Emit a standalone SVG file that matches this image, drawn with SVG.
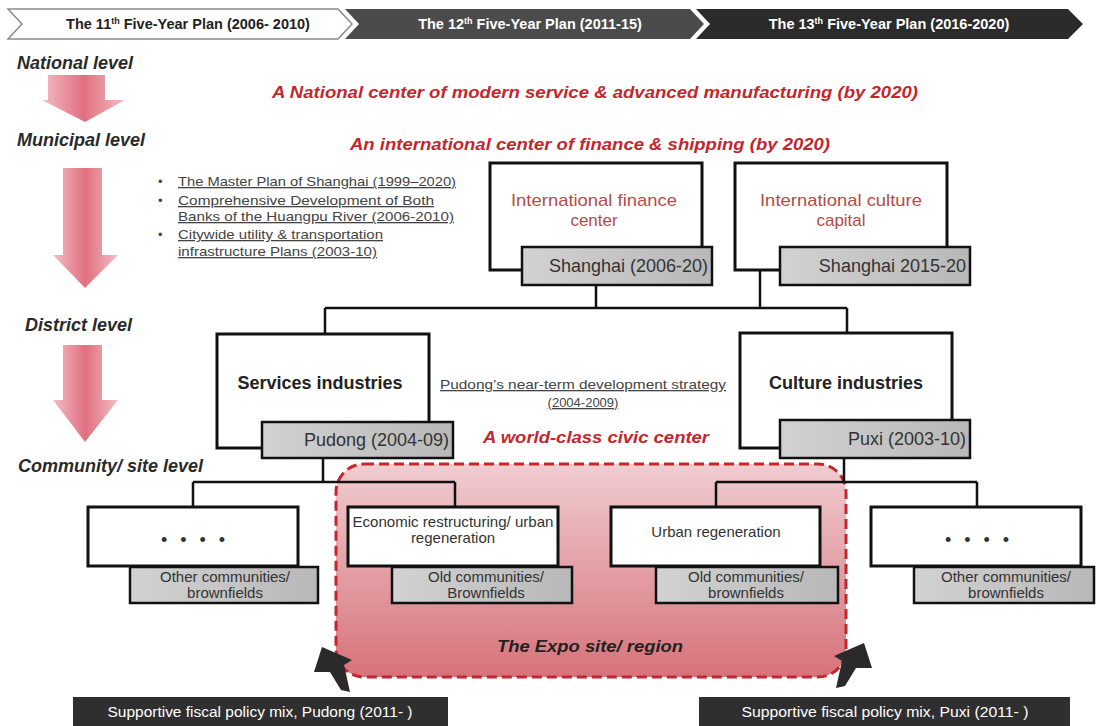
<svg xmlns="http://www.w3.org/2000/svg" width="1096" height="726" viewBox="0 0 1096 726">
<defs>
<linearGradient id="pink" x1="0" y1="0" x2="1" y2="0">
<stop offset="0" stop-color="#f4bcc4"/>
<stop offset="0.5" stop-color="#e07080"/>
<stop offset="1" stop-color="#f4bcc4"/>
</linearGradient>
<linearGradient id="expo" x1="0" y1="0" x2="0" y2="1">
<stop offset="0" stop-color="#f0cdd0"/>
<stop offset="1" stop-color="#d7727a"/>
</linearGradient>
<linearGradient id="lbl" x1="0" y1="0" x2="1" y2="0">
<stop offset="0" stop-color="#d2d2d2"/>
<stop offset="1" stop-color="#b8b8b8"/>
</linearGradient>
<style>
text{font-family:"Liberation Sans",Arial,sans-serif}
.hdr{font-size:14.5px;font-weight:bold;fill:#fff;text-anchor:middle}
.lvl{font-size:18px;font-weight:bold;font-style:italic;fill:#2a2a2a}
.red{font-size:17px;font-weight:bold;font-style:italic;fill:#c3272d;text-anchor:middle}
.bul{font-size:13px;fill:#444;text-decoration:underline}
.box{fill:#fff;stroke:#111;stroke-width:3}
.lab{fill:url(#lbl);stroke:#111;stroke-width:2.5}
.lt{font-size:18px;fill:#333;text-anchor:end}
.tt{font-size:17px;fill:#b84a48;text-anchor:middle}
.bt{font-size:18px;font-weight:bold;fill:#222;text-anchor:middle}
.st{font-size:15px;fill:#333;text-anchor:middle}
.ln{fill:none;stroke:#111;stroke-width:2.5}
.fb{fill:#2f2f2f}
.ft{font-size:14px;fill:#fff;text-anchor:middle}
.arr{fill:url(#pink)}
.dots{font-size:18px;fill:#333;text-anchor:middle;letter-spacing:4px}
</style>
</defs>

<g id="header">
<polygon points="8,9 338,9 352,24 338,39 8,39 22,24" fill="#fff" stroke="#8a8a8a" stroke-width="1.5"/>
<text class="hdr" x="188" y="29" style="fill:#222">The 11<tspan font-size="9" dy="-5">th</tspan><tspan dy="5"> Five-Year Plan (2006- 2010)</tspan></text>
<polygon points="345,9 690,9 704,24 690,39 345,39 359,24" fill="#4b4b4b"/>
<text class="hdr" x="530" y="29">The 12<tspan font-size="9" dy="-5">th</tspan><tspan dy="5"> Five-Year Plan (2011-15)</tspan></text>
<polygon points="696,9 1068,9 1083,24 1068,39 696,39 710,24" fill="#2b2b2b"/>
<text class="hdr" x="889" y="29">The 13<tspan font-size="9" dy="-5">th</tspan><tspan dy="5"> Five-Year Plan (2016-2020)</tspan></text>
</g>

<g id="levels">
<polygon class="arr" points="48,75 105,75 105,100 125,100 85,122 42,100 48,100"/>
<polygon class="arr" points="63,168 102,168 102,255 118,255 85,288 53,255 63,255"/>
<polygon class="arr" points="63,345 102,345 102,400 118,400 85,442 53,400 63,400"/>
<text class="lvl" x="17" y="69">National level</text>
<text class="lvl" x="17" y="146">Municipal level</text>
<text class="lvl" x="25" y="331">District level</text>
<text class="lvl" x="18" y="472">Community/ site level</text>
</g>

<g id="headlines">
<text class="red" x="595" y="98" textLength="646" lengthAdjust="spacingAndGlyphs">A National center of modern service &amp; advanced manufacturing (by 2020)</text>
<text class="red" x="590" y="150" textLength="480" lengthAdjust="spacingAndGlyphs">An international center of finance &amp; shipping (by 2020)</text>
</g>

<g id="bullets">
<text x="158" y="186" font-size="13" fill="#444">•</text>
<text x="158" y="205" font-size="13" fill="#444">•</text>
<text x="158" y="239" font-size="13" fill="#444">•</text>
<text class="bul" x="178" y="186" textLength="278" lengthAdjust="spacingAndGlyphs">The Master Plan of Shanghai (1999–2020)</text>
<text class="bul" x="178" y="205" textLength="256" lengthAdjust="spacingAndGlyphs">Comprehensive  Development  of Both</text>
<text class="bul" x="178" y="221" textLength="276" lengthAdjust="spacingAndGlyphs">Banks of the Huangpu River (2006-2010)</text>
<text class="bul" x="178" y="239" textLength="205" lengthAdjust="spacingAndGlyphs">Citywide utility &amp; transportation</text>
<text class="bul" x="178" y="256" textLength="199" lengthAdjust="spacingAndGlyphs">infrastructure Plans (2003-10)</text>
</g>

<g id="expo-region">
<rect x="336" y="464" width="510" height="213" rx="28" fill="url(#expo)" stroke="#c3272d" stroke-width="3" stroke-dasharray="10,5"/>
<text x="590" y="652" font-size="17" font-weight="bold" font-style="italic" fill="#222" text-anchor="middle" textLength="186" lengthAdjust="spacingAndGlyphs">The Expo site/ region</text>
</g>

<g id="connectors">
<path class="ln" d="M596,285 V308 M760,270 V308 M325,308 H847 M325,308 V334 M847,308 V333"/>
<path class="ln" d="M323,458 V482 M193,482 H455 M193,482 V507 M455,482 V507"/>
<path class="ln" d="M844,458 V482 M716,482 H977 M716,482 V507 M977,482 V507"/>
<polygon points="322,647 352,660 344,665 350,692 341,690 330,672 314,672" fill="#2a2a2a"/>
<polygon points="864,643 834,656 842,661 836,688 845,686 856,668 872,668" fill="#2a2a2a"/>
</g>

<g id="node-finance">
<rect class="box" x="490" y="163" width="212" height="107"/>
<text class="tt" x="594" y="206" textLength="166" lengthAdjust="spacingAndGlyphs">International  finance</text>
<text class="tt" x="594" y="226">center</text>
<rect class="lab" x="522" y="247" width="190" height="38"/>
<text class="lt" x="708" y="272">Shanghai (2006-20)</text>
</g>

<g id="node-culture-capital">
<rect class="box" x="735" y="163" width="212" height="107"/>
<text class="tt" x="841" y="206" textLength="162" lengthAdjust="spacingAndGlyphs">International  culture</text>
<text class="tt" x="841" y="226">capital</text>
<rect class="lab" x="780" y="247" width="190" height="38"/>
<text class="lt" x="966" y="272">Shanghai 2015-20</text>
</g>

<g id="node-services">
<rect class="box" x="217" y="334" width="212" height="114"/>
<text class="bt" x="320" y="389">Services industries</text>
<rect class="lab" x="262" y="422" width="191" height="36"/>
<text class="lt" x="449" y="446">Pudong (2004-09)</text>
</g>

<g id="pudong-strategy">
<text x="583" y="389" font-size="13" fill="#444" text-anchor="middle" text-decoration="underline" textLength="286" lengthAdjust="spacingAndGlyphs">Pudong’s near-term development  strategy</text>
<text x="583" y="407" font-size="13" fill="#444" text-anchor="middle" text-decoration="underline">(2004-2009)</text>
<text class="red" x="596" y="443" textLength="226" lengthAdjust="spacingAndGlyphs">A world-class civic center</text>
</g>

<g id="node-culture">
<rect class="box" x="740" y="333" width="212" height="115"/>
<text class="bt" x="846" y="389">Culture industries</text>
<rect class="lab" x="780" y="420" width="190" height="38"/>
<text class="lt" x="966" y="445">Puxi (2003-10)</text>
</g>

<g id="node-other-left">
<rect class="box" x="88" y="507" width="210" height="59"/>
<text class="dots" x="195" y="546">• • • •</text>
<rect class="lab" x="130" y="567" width="188" height="36"/>
<text class="st" x="225" y="582">Other communities/</text>
<text class="st" x="225" y="598">brownfields</text>
</g>

<g id="node-economic">
<rect class="box" x="348" y="507" width="210" height="59"/>
<text class="st" x="453" y="527" textLength="201" lengthAdjust="spacingAndGlyphs">Economic restructuring/ urban</text>
<text class="st" x="453" y="543">regeneration</text>
<rect class="lab" x="392" y="567" width="180" height="36"/>
<text class="st" x="486" y="582">Old communities/</text>
<text class="st" x="486" y="598">Brownfields</text>
</g>

<g id="node-urban">
<rect class="box" x="611" y="507" width="209" height="59"/>
<text class="st" x="716" y="537">Urban  regeneration</text>
<rect class="lab" x="656" y="567" width="182" height="36"/>
<text class="st" x="746" y="582">Old communities/</text>
<text class="st" x="746" y="598">brownfields</text>
</g>

<g id="node-other-right">
<rect class="box" x="871" y="507" width="210" height="59"/>
<text class="dots" x="979" y="546">• • • •</text>
<rect class="lab" x="914" y="567" width="180" height="36"/>
<text class="st" x="1006" y="582">Other communities/</text>
<text class="st" x="1006" y="598">brownfields</text>
</g>

<g id="fiscal-pudong">
<rect class="fb" x="73" y="697" width="375" height="32"/>
<text class="ft" x="260" y="717" textLength="305" lengthAdjust="spacingAndGlyphs">Supportive  fiscal policy mix, Pudong (2011- )</text>
</g>

<g id="fiscal-puxi">
<rect class="fb" x="699" y="697" width="371" height="32"/>
<text class="ft" x="885" y="717" textLength="287" lengthAdjust="spacingAndGlyphs">Supportive  fiscal policy mix, Puxi (2011- )</text>
</g>
</svg>
